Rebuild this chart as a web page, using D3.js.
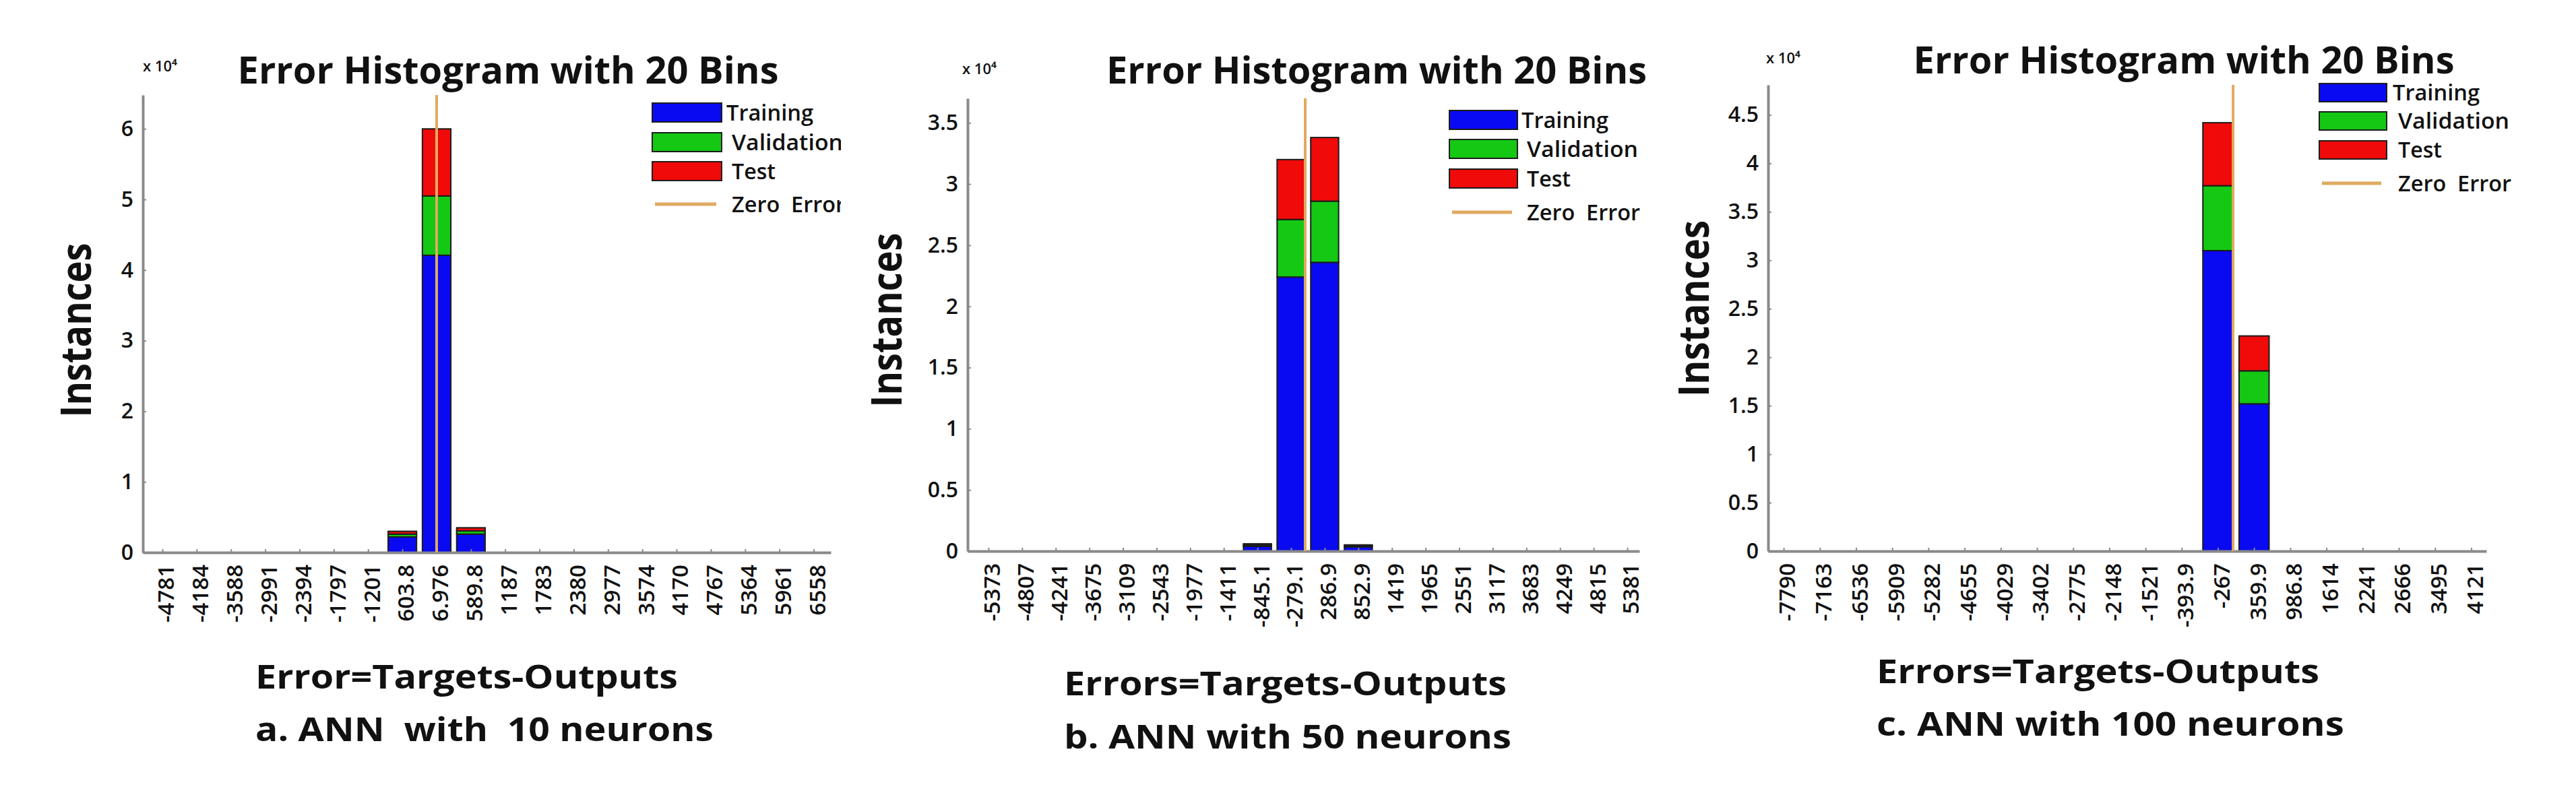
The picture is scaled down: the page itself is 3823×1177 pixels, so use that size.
<!DOCTYPE html>
<html>
<head>
<meta charset="utf-8">
<script src="https://cdn.jsdelivr.net/npm/d3@7"></script>
<style>
  html, body { margin: 0; padding: 0; background: #ffffff; }
  svg { display: block; }
  text { font-family: "Open Sans", "Noto Sans", sans-serif; fill: #111; }
</style>
</head>
<body>
<script>
// ---------------- DATA (values in units of x10^4 instances) ----------------
const seriesNames = ["Training", "Validation", "Test"];
const legendLabels = ["Training", "Validation", "Test", "Zero  Error"];
const titleText = "Error Histogram with 20 Bins";

const binLabelsA = ["-4781","-4184","-3588","-2991","-2394","-1797","-1201","603.8","6.976","589.8","1187","1783","2380","2977","3574","4170","4767","5364","5961","6558"];
const trainA = [0,0,0,0,0,0,0,0.22,4.21,0.26,0,0,0,0,0,0,0,0,0,0];
const validA = [0,0,0,0,0,0,0,0.04,0.84,0.045,0,0,0,0,0,0,0,0,0,0];
const testA  = [0,0,0,0,0,0,0,0.04,0.95,0.045,0,0,0,0,0,0,0,0,0,0];
const yTicksA = [0,1,2,3,4,5,6];
const zeroPosA = 8.0;   // zero-error line position, in bin units

const binLabelsB = ["-5373","-4807","-4241","-3675","-3109","-2543","-1977","-1411","-845.1","-279.1","286.9","852.9","1419","1965","2551","3117","3683","4249","4815","5381"];
const trainB = [0,0,0,0,0,0,0,0,0.04,2.24,2.36,0.035,0,0,0,0,0,0,0,0];
const validB = [0,0,0,0,0,0,0,0,0.01,0.47,0.50,0.008,0,0,0,0,0,0,0,0];
const testB  = [0,0,0,0,0,0,0,0,0.01,0.49,0.52,0.008,0,0,0,0,0,0,0,0];
const yTicksB = [0,0.5,1,1.5,2,2.5,3,3.5];
const zeroPosB = 9.42;

const binLabelsC = ["-7790","-7163","-6536","-5909","-5282","-4655","-4029","-3402","-2775","-2148","-1521","-393.9","-267","359.9","986.8","1614","2241","2666","3495","4121"];
const trainC = [0,0,0,0,0,0,0,0,0,0,0,0,3.10,1.52,0,0,0,0,0,0];
const validC = [0,0,0,0,0,0,0,0,0,0,0,0,0.67,0.34,0,0,0,0,0,0];
const testC  = [0,0,0,0,0,0,0,0,0,0,0,0,0.65,0.36,0,0,0,0,0,0];
const yTicksC = [0,0.5,1,1.5,2,2.5,3,3.5,4,4.5];
const zeroPosC = 12.42;

const captions = [
  ["Error=Targets-Outputs", "a. ANN  with  10 neurons"],
  ["Errors=Targets-Outputs", "b. ANN with 50 neurons"],
  ["Errors=Targets-Outputs", "c. ANN with 100 neurons"]
];

// ---------------- LAYOUT ----------------
const W = 3823, H = 1177;
const colors = { Training: "#0a0af2", Validation: "#14c814", Test: "#f00a0a", Zero: "#e0aa60" };
const legendTextLen = [129, 165, 65, 168];

const panels = [
  { labels: binLabelsA, train: trainA, valid: validA, test: testA, yTicks: yTicksA, zero: zeroPosA,
    xl: 212, xr: 1233, yTop: 141, y0: 820, yMax: 6.48, dom: [-0.57, 19.5],
    title: { cx: 754, y: 124, len: 803 }, exp: { x: 212, y: 106 },
    inst: { x: 135, y: 490, len: 259 },
    cap: { x: 379, y1: 1022, y2: 1100, len1: 627, len2: 680 },
    leg: { x: 968, w: 103, ys: [153, 197, 240], h: 28, zy: 303, tx: 1078, clip: 1248, fs: 33 } },
  { labels: binLabelsB, train: trainB, valid: validB, test: testB, yTicks: yTicksB, zero: zeroPosB,
    xl: 1436, xr: 2433, yTop: 146, y0: 818, yMax: 3.70, dom: [-0.62, 19.36],
    title: { cx: 2043, y: 124, len: 802 }, exp: { x: 1428, y: 110 },
    inst: { x: 1338, y: 475, len: 259 },
    cap: { x: 1579, y1: 1032, y2: 1111, len1: 657, len2: 664 },
    leg: { x: 2151, w: 101, ys: [164, 207, 251], h: 28, zy: 315, tx: 2258, clip: 3823, fs: 33 } },
  { labels: binLabelsC, train: trainC, valid: validC, test: testC, yTicks: yTicksC, zero: zeroPosC,
    xl: 2624, xr: 3690, yTop: 126, y0: 818, yMax: 4.81, dom: [-0.43, 19.42],
    title: { cx: 3241, y: 109, len: 803 }, exp: { x: 2621, y: 94 },
    inst: { x: 2536, y: 458, len: 262 },
    cap: { x: 2785, y1: 1014, y2: 1092, len1: 657, len2: 694 },
    leg: { x: 3442, w: 100, ys: [124, 166, 209], h: 27, zy: 272, tx: 3551, clip: 3823, fs: 32 } }
];

const svg = d3.select("body").append("svg")
  .attr("width", W).attr("height", H)
  .attr("viewBox", `0 0 ${W} ${H}`);
svg.append("rect").attr("width", W).attr("height", H).attr("fill", "#fff");

const stack = d3.stack().keys(seriesNames);

panels.forEach((p, pi) => {
  const g = svg.append("g");
  const x = d3.scaleLinear().domain(p.dom).range([p.xl, p.xr]);
  const y = d3.scaleLinear().domain([0, p.yMax]).range([p.y0, p.yTop]);
  const step = x(1) - x(0);
  const bw = step * 0.83;

  const rows = p.labels.map((lab, i) => ({ i, Training: p.train[i], Validation: p.valid[i], Test: p.test[i] }));
  const stacked = stack(rows);

  // bars
  stacked.forEach(layer => {
    g.append("g").selectAll("rect")
      .data(layer.filter(d => d[1] - d[0] > 0))
      .join("rect")
      .attr("x", d => x(d.data.i) - bw / 2)
      .attr("width", bw)
      .attr("y", d => y(d[1]))
      .attr("height", d => y(d[0]) - y(d[1]))
      .attr("fill", colors[layer.key])
      .attr("stroke", "#1c1c1c")
      .attr("stroke-width", 2);
  });

  // y axis
  const yAxis = d3.axisLeft(y).tickValues(p.yTicks).tickFormat(d3.format("")).tickSizeInner(-5).tickSizeOuter(0).tickPadding(14);
  const gy = g.append("g").attr("transform", `translate(${p.xl},0)`).call(yAxis);
  gy.select(".domain").attr("stroke", "#8a8a8a").attr("stroke-width", 4);
  gy.selectAll(".tick line").attr("stroke", "#8a8a8a").attr("stroke-width", 2);
  gy.selectAll(".tick text").attr("font-size", 32).attr("font-weight", 600).attr("fill", "#1a1a1a");

  // x axis
  const xAxis = d3.axisBottom(x).tickValues(d3.range(p.labels.length)).tickFormat(i => p.labels[i]).tickSizeInner(-5).tickSizeOuter(0);
  const gx = g.append("g").attr("transform", `translate(0,${p.y0})`).call(xAxis);
  gx.select(".domain").attr("stroke", "#8a8a8a").attr("stroke-width", 4);
  gx.selectAll(".tick line").attr("stroke", "#8a8a8a").attr("stroke-width", 2);
  gx.selectAll(".tick text")
    .attr("x", 0).attr("y", 0).attr("dy", "0.36em")
    .attr("text-anchor", "end")
    .attr("transform", "translate(5,18) rotate(-90)")
    .attr("font-size", 33).attr("font-weight", 600).attr("fill", "#1a1a1a");

  // zero error line
  g.append("line")
    .attr("x1", x(p.zero)).attr("x2", x(p.zero))
    .attr("y1", p.yTop).attr("y2", p.y0)
    .attr("stroke", colors.Zero).attr("stroke-width", 4);

  // title
  g.append("text")
    .attr("x", p.title.cx).attr("y", p.title.y)
    .attr("text-anchor", "middle")
    .attr("font-size", 56).attr("font-weight", 700)
    .attr("textLength", p.title.len).attr("lengthAdjust", "spacingAndGlyphs")
    .text(titleText);

  // exponent label
  g.append("text").attr("x", p.exp.x).attr("y", p.exp.y)
    .attr("font-size", 22).attr("font-weight", 600)
    .text("x 10\u2074");

  // y label
  g.append("text")
    .attr("transform", `translate(${p.inst.x},${p.inst.y}) rotate(-90)`)
    .attr("text-anchor", "middle")
    .attr("font-size", 62).attr("font-weight", 700)
    .attr("textLength", p.inst.len).attr("lengthAdjust", "spacingAndGlyphs")
    .text("Instances");

  // captions
  g.append("text").attr("x", p.cap.x).attr("y", p.cap.y1)
    .attr("font-size", 49).attr("font-weight", 700)
    .attr("textLength", p.cap.len1).attr("lengthAdjust", "spacingAndGlyphs")
    .text(captions[pi][0]);
  g.append("text").attr("x", p.cap.x).attr("y", p.cap.y2)
    .attr("font-size", 49).attr("font-weight", 700)
    .attr("textLength", p.cap.len2).attr("lengthAdjust", "spacingAndGlyphs")
    .attr("xml:space", "preserve")
    .text(captions[pi][1]);

  // legend
  const clipId = "legclip" + pi;
  svg.append("clipPath").attr("id", clipId)
    .append("rect").attr("x", p.leg.x - 10).attr("y", 0).attr("width", p.leg.clip - p.leg.x + 10).attr("height", H);
  const lg = g.append("g").attr("clip-path", `url(#${clipId})`);
  seriesNames.forEach((s, k) => {
    lg.append("rect")
      .attr("x", p.leg.x).attr("y", p.leg.ys[k])
      .attr("width", p.leg.w).attr("height", p.leg.h)
      .attr("fill", colors[s]).attr("stroke", "#1c1c1c").attr("stroke-width", 2);
  });
  lg.append("line")
    .attr("x1", p.leg.x + 4).attr("x2", p.leg.x + p.leg.w - 8)
    .attr("y1", p.leg.zy).attr("y2", p.leg.zy)
    .attr("stroke", colors.Zero).attr("stroke-width", 5);
  const textYs = [p.leg.ys[0] + p.leg.h / 2, p.leg.ys[1] + p.leg.h / 2, p.leg.ys[2] + p.leg.h / 2, p.leg.zy];
  legendLabels.forEach((t, k) => {
    lg.append("text")
      .attr("x", p.leg.tx + (k === 0 ? 0 : 8)).attr("y", textYs[k]).attr("dy", "0.36em")
      .attr("font-size", p.leg.fs).attr("font-weight", 600)
      .attr("textLength", legendTextLen[k]).attr("lengthAdjust", "spacingAndGlyphs")
      .attr("xml:space", "preserve")
      .text(t);
  });
});
</script>
</body>
</html>
